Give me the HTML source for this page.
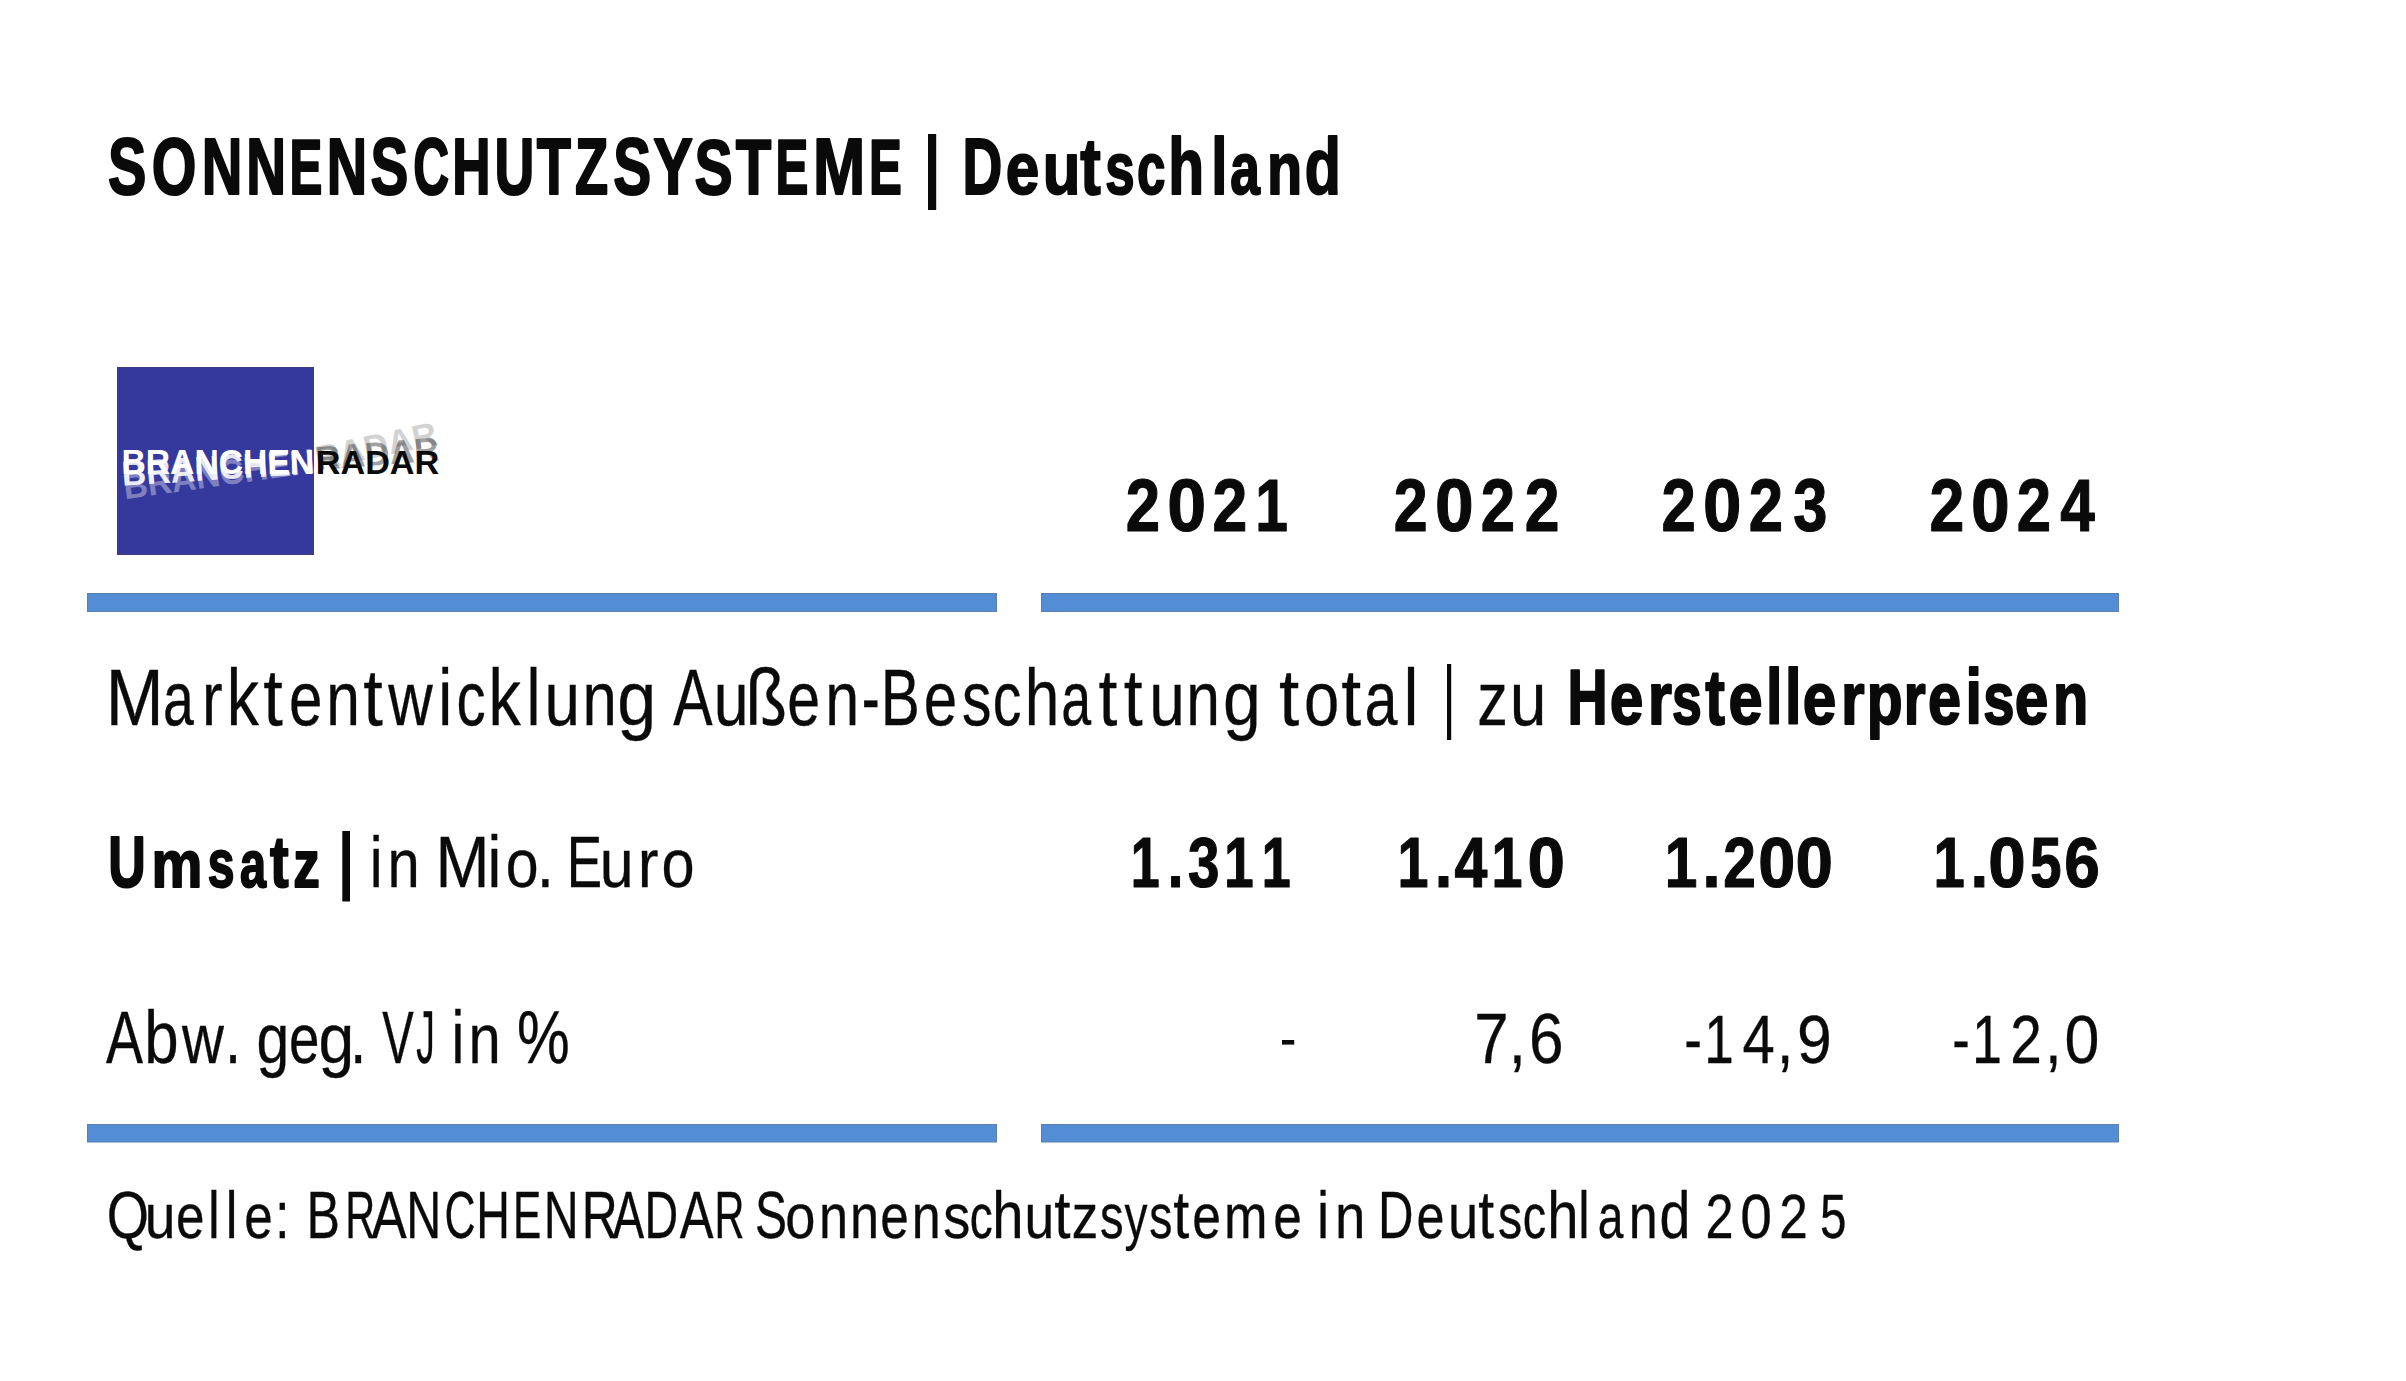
<!DOCTYPE html>
<html><head><meta charset="utf-8">
<style>
html,body{margin:0;padding:0;background:#fff;}
body{width:2406px;height:1381px;overflow:hidden;position:relative;}
svg{position:absolute;left:0;top:0;display:block;}
text{font-family:"Liberation Sans",sans-serif;fill:#0b0a0a;font-kerning:none;font-variant-ligatures:none;}
.b{stroke:#0b0a0a;stroke-width:1.8px;vector-effect:non-scaling-stroke;stroke-linejoin:round;}
.bn{stroke:#0b0a0a;stroke-width:1.1px;vector-effect:non-scaling-stroke;stroke-linejoin:round;}
.r{stroke:#0b0a0a;stroke-width:0.3px;vector-effect:non-scaling-stroke;stroke-linejoin:round;}
</style></head>
<body>
<svg width="2406" height="1381" viewBox="0 0 2406 1381">
<rect x="0" y="0" width="2406" height="1381" fill="#ffffff"/>
<!-- logo -->
<rect x="117.5" y="367.5" width="196" height="187" fill="#35389c" stroke="#3a3d80" stroke-width="1"/>
<!-- rules -->
<rect x="87.5" y="593.5" width="909" height="18" fill="#538dd5" stroke="#5b80aa" stroke-width="1"/>
<rect x="1041.5" y="593.5" width="1077" height="18" fill="#538dd5" stroke="#5b80aa" stroke-width="1"/>
<rect x="87.5" y="1124.5" width="909" height="17.5" fill="#538dd5" stroke="#5b80aa" stroke-width="1"/>
<rect x="1041.5" y="1124.5" width="1077" height="17.5" fill="#538dd5" stroke="#5b80aa" stroke-width="1"/>
<!-- bars -->
<rect x="928" y="134" width="8.2" height="76" fill="#0b0a0a"/>
<rect x="1447" y="664" width="4.2" height="76" fill="#0b0a0a"/>
<rect x="342.3" y="831" width="7.7" height="70.5" fill="#0b0a0a"/>
<rect x="1282" y="1040" width="12.2" height="4.6" fill="#0b0a0a"/>
<g transform="rotate(-8 303 462)" opacity="0.36"><text transform="translate(121.45 474.00) scale(0.9660 1)" style="font-size:34.88px;font-weight:700;fill:#ffffff">BRANCHEN</text></g>
<g transform="rotate(-3.7 305 462)" opacity="0.88"><text transform="translate(121.45 474.00) scale(0.9660 1)" style="font-size:34.88px;font-weight:700;fill:#ffffff">BRANCHEN</text></g>
<g transform="rotate(-12 300 462)" opacity="0.18"><text transform="translate(315.71 473.50) scale(1.0238 1)" style="font-size:33.43px;font-weight:700;fill:#0b0a0a">RADAR</text></g>
<g transform="rotate(-4.6 276 462)" opacity="0.38"><text transform="translate(315.71 473.50) scale(1.0238 1)" style="font-size:33.43px;font-weight:700;fill:#0b0a0a">RADAR</text></g>
<text transform="translate(121.45 474.00) scale(0.9660 1)" style="font-size:34.88px;font-weight:700;fill:#ffffff">BRANCHEN</text>
<text transform="translate(315.71 473.50) scale(1.0238 1)" style="font-size:33.43px;font-weight:700;fill:#0b0a0a">RADAR</text>
<text class="b" transform="translate(107.94 194.10) scale(0.7309 1)" style="font-size:78.78px;font-weight:700;">S</text>
<text class="b" transform="translate(151.84 194.10) scale(0.7289 1)" style="font-size:78.78px;font-weight:700;">O</text>
<text class="b" transform="translate(201.83 194.10) scale(0.7147 1)" style="font-size:78.78px;font-weight:700;">N</text>
<text class="b" transform="translate(246.21 194.10) scale(0.6996 1)" style="font-size:78.78px;font-weight:700;">N</text>
<text class="b" transform="translate(289.57 194.10) scale(0.6260 1)" style="font-size:78.78px;font-weight:700;">E</text>
<text class="b" transform="translate(326.86 194.10) scale(0.7104 1)" style="font-size:78.78px;font-weight:700;">N</text>
<text class="b" transform="translate(370.47 194.10) scale(0.7204 1)" style="font-size:78.78px;font-weight:700;">S</text>
<text class="b" transform="translate(413.16 194.10) scale(0.6310 1)" style="font-size:78.78px;font-weight:700;">C</text>
<text class="b" transform="translate(452.35 194.10) scale(0.6737 1)" style="font-size:78.78px;font-weight:700;">H</text>
<text class="b" transform="translate(494.58 194.10) scale(0.7011 1)" style="font-size:78.78px;font-weight:700;">U</text>
<text class="b" transform="translate(536.77 194.10) scale(0.7113 1)" style="font-size:78.78px;font-weight:700;">T</text>
<text class="b" transform="translate(575.08 194.10) scale(0.6896 1)" style="font-size:78.78px;font-weight:700;">Z</text>
<text class="b" transform="translate(613.26 194.10) scale(0.7225 1)" style="font-size:78.78px;font-weight:700;">S</text>
<text class="b" transform="translate(653.18 194.10) scale(0.7551 1)" style="font-size:78.78px;font-weight:700;">Y</text>
<text class="b" transform="translate(694.45 194.10) scale(0.7267 1)" style="font-size:78.78px;font-weight:700;">S</text>
<text class="b" transform="translate(735.75 194.10) scale(0.7394 1)" style="font-size:78.78px;font-weight:700;">T</text>
<text class="b" transform="translate(775.52 194.10) scale(0.6260 1)" style="font-size:78.78px;font-weight:700;">E</text>
<text class="b" transform="translate(813.11 194.10) scale(0.7967 1)" style="font-size:78.78px;font-weight:700;">M</text>
<text class="b" transform="translate(869.12 194.10) scale(0.6260 1)" style="font-size:78.78px;font-weight:700;">E</text>
<text class="b" transform="translate(962.61 194.10) scale(0.6996 1)" style="font-size:78.78px;font-weight:700;">D</text>
<text class="b" transform="translate(1005.75 194.10) scale(0.7649 0.9450)" style="font-size:78.78px;font-weight:700;">e</text>
<text class="b" transform="translate(1042.67 194.10) scale(0.7833 0.9450)" style="font-size:78.78px;font-weight:700;">u</text>
<text class="b" transform="translate(1080.15 194.10) scale(0.7815 1)" style="font-size:78.78px;font-weight:700;">t</text>
<text class="b" transform="translate(1105.34 194.10) scale(0.6717 0.9450)" style="font-size:78.78px;font-weight:700;">s</text>
<text class="b" transform="translate(1137.03 194.10) scale(0.6492 0.9450)" style="font-size:78.78px;font-weight:700;">c</text>
<text class="b" transform="translate(1168.20 194.10) scale(0.7446 1)" style="font-size:78.78px;font-weight:700;">h</text>
<text class="b" transform="translate(1211.24 194.10) scale(0.7377 1)" style="font-size:78.78px;font-weight:700;">l</text>
<text class="b" transform="translate(1230.34 194.10) scale(0.6761 0.9450)" style="font-size:78.78px;font-weight:700;">a</text>
<text class="b" transform="translate(1266.91 194.10) scale(0.7307 0.9450)" style="font-size:78.78px;font-weight:700;">n</text>
<text class="b" transform="translate(1304.87 194.10) scale(0.7507 1)" style="font-size:78.78px;font-weight:700;">d</text>
<text class="bn" transform="translate(1125.65 531.45) scale(0.8299 1)" style="font-size:74.33px;font-weight:700;">2</text>
<text class="bn" transform="translate(1167.25 531.45) scale(0.9418 1)" style="font-size:74.33px;font-weight:700;">0</text>
<text class="bn" transform="translate(1212.49 531.45) scale(0.8409 1)" style="font-size:74.33px;font-weight:700;">2</text>
<text class="bn" transform="translate(1255.18 531.45) scale(0.7901 1)" style="font-size:74.33px;font-weight:700;">1</text>
<text class="bn" transform="translate(1393.84 531.45) scale(0.8189 1)" style="font-size:74.33px;font-weight:700;">2</text>
<text class="bn" transform="translate(1434.94 531.45) scale(0.9357 1)" style="font-size:74.33px;font-weight:700;">0</text>
<text class="bn" transform="translate(1480.68 531.45) scale(0.8299 1)" style="font-size:74.33px;font-weight:700;">2</text>
<text class="bn" transform="translate(1524.87 531.45) scale(0.8409 1)" style="font-size:74.33px;font-weight:700;">2</text>
<text class="bn" transform="translate(1661.44 531.45) scale(0.8299 1)" style="font-size:74.33px;font-weight:700;">2</text>
<text class="bn" transform="translate(1703.10 531.45) scale(0.9295 1)" style="font-size:74.33px;font-weight:700;">0</text>
<text class="bn" transform="translate(1748.70 531.45) scale(0.8299 1)" style="font-size:74.33px;font-weight:700;">2</text>
<text class="bn" transform="translate(1793.26 531.45) scale(0.8252 1)" style="font-size:74.33px;font-weight:700;">3</text>
<text class="bn" transform="translate(1929.57 531.45) scale(0.8409 1)" style="font-size:74.33px;font-weight:700;">2</text>
<text class="bn" transform="translate(1971.07 531.45) scale(0.9386 1)" style="font-size:74.33px;font-weight:700;">0</text>
<text class="bn" transform="translate(2016.86 531.45) scale(0.8299 1)" style="font-size:74.33px;font-weight:700;">2</text>
<text class="bn" transform="translate(2060.31 531.45) scale(0.8352 1)" style="font-size:74.33px;font-weight:700;">4</text>
<text class="r" transform="translate(105.65 724.85) scale(0.8743 1)" style="font-size:79.51px;">M</text>
<text class="r" transform="translate(162.93 724.85) scale(0.6962 0.9450)" style="font-size:79.51px;">a</text>
<text class="r" transform="translate(202.03 724.85) scale(0.7798 0.9450)" style="font-size:79.51px;">r</text>
<text class="r" transform="translate(226.72 724.85) scale(0.8084 1)" style="font-size:79.51px;">k</text>
<text class="r" transform="translate(263.19 724.85) scale(0.8860 1)" style="font-size:79.51px;">t</text>
<text class="r" transform="translate(288.90 724.85) scale(0.7559 0.9450)" style="font-size:79.51px;">e</text>
<text class="r" transform="translate(326.13 724.85) scale(0.7609 0.9450)" style="font-size:79.51px;">n</text>
<text class="r" transform="translate(363.29 724.85) scale(0.8860 1)" style="font-size:79.51px;">t</text>
<text class="r" transform="translate(388.24 724.85) scale(0.7743 0.9450)" style="font-size:79.51px;">w</text>
<text class="r" transform="translate(438.33 724.85) scale(0.7911 1)" style="font-size:79.51px;">i</text>
<text class="r" transform="translate(456.48 724.85) scale(0.7322 0.9450)" style="font-size:79.51px;">c</text>
<text class="r" transform="translate(488.49 724.85) scale(0.8142 1)" style="font-size:79.51px;">k</text>
<text class="r" transform="translate(526.51 724.85) scale(0.7911 1)" style="font-size:79.51px;">l</text>
<text class="r" transform="translate(544.61 724.85) scale(0.8024 0.9450)" style="font-size:79.51px;">u</text>
<text class="r" transform="translate(582.55 724.85) scale(0.7757 0.9450)" style="font-size:79.51px;">n</text>
<text class="r" transform="translate(617.21 724.85) scale(0.8810 0.9450)" style="font-size:79.51px;">g</text>
<text class="r" transform="translate(673.33 724.85) scale(0.7417 1)" style="font-size:79.51px;">A</text>
<text class="r" transform="translate(713.78 724.85) scale(0.7876 0.9450)" style="font-size:79.51px;">u</text>
<text class="r" transform="translate(745.56 724.85) scale(0.8555 1)" style="font-size:79.51px;">ß</text>
<text class="r" transform="translate(787.14 724.85) scale(0.7425 0.9450)" style="font-size:79.51px;">e</text>
<text class="r" transform="translate(825.30 724.85) scale(0.7668 0.9450)" style="font-size:79.51px;">n</text>
<text class="r" transform="translate(861.65 724.85) scale(0.6800 1)" style="font-size:79.51px;">-</text>
<text class="r" transform="translate(880.64 724.85) scale(0.7373 1)" style="font-size:79.51px;">B</text>
<text class="r" transform="translate(923.80 724.85) scale(0.7559 0.9450)" style="font-size:79.51px;">e</text>
<text class="r" transform="translate(962.11 724.85) scale(0.7413 0.9450)" style="font-size:79.51px;">s</text>
<text class="r" transform="translate(992.72 724.85) scale(0.7205 0.9450)" style="font-size:79.51px;">c</text>
<text class="r" transform="translate(1024.84 724.85) scale(0.7811 1)" style="font-size:79.51px;">h</text>
<text class="r" transform="translate(1061.37 724.85) scale(0.6758 0.9450)" style="font-size:79.51px;">a</text>
<text class="r" transform="translate(1098.38 724.85) scale(0.8555 1)" style="font-size:79.51px;">t</text>
<text class="r" transform="translate(1123.83 724.85) scale(0.8555 1)" style="font-size:79.51px;">t</text>
<text class="r" transform="translate(1149.19 724.85) scale(0.8053 0.9450)" style="font-size:79.51px;">u</text>
<text class="r" transform="translate(1186.23 724.85) scale(0.7609 0.9450)" style="font-size:79.51px;">n</text>
<text class="r" transform="translate(1223.10 724.85) scale(0.8555 0.9450)" style="font-size:79.51px;">g</text>
<text class="r" transform="translate(1279.05 724.85) scale(0.9161 1)" style="font-size:79.51px;">t</text>
<text class="r" transform="translate(1304.09 724.85) scale(0.7965 0.9450)" style="font-size:79.51px;">o</text>
<text class="r" transform="translate(1341.17 724.85) scale(0.9013 1)" style="font-size:79.51px;">t</text>
<text class="r" transform="translate(1364.57 724.85) scale(0.7470 0.9450)" style="font-size:79.51px;">a</text>
<text class="r" transform="translate(1403.60 724.85) scale(0.8489 1)" style="font-size:79.51px;">l</text>
<text class="r" transform="translate(1477.17 724.85) scale(0.7706 0.9450)" style="font-size:79.51px;">z</text>
<text class="r" transform="translate(1509.75 724.85) scale(0.8320 0.9450)" style="font-size:79.51px;">u</text>
<text class="b" transform="translate(1567.38 724.10) scale(0.7126 1)" style="font-size:78.05px;font-weight:700;">H</text>
<text class="b" transform="translate(1609.64 724.10) scale(0.7747 0.9450)" style="font-size:78.05px;font-weight:700;">e</text>
<text class="b" transform="translate(1647.79 724.10) scale(0.7984 0.9450)" style="font-size:78.05px;font-weight:700;">r</text>
<text class="b" transform="translate(1672.02 724.10) scale(0.6860 0.9450)" style="font-size:78.05px;font-weight:700;">s</text>
<text class="b" transform="translate(1705.18 724.10) scale(0.7556 1)" style="font-size:78.05px;font-weight:700;">t</text>
<text class="b" transform="translate(1728.41 724.10) scale(0.7853 0.9450)" style="font-size:78.05px;font-weight:700;">e</text>
<text class="b" transform="translate(1766.07 724.10) scale(0.7585 1)" style="font-size:78.05px;font-weight:700;">l</text>
<text class="b" transform="translate(1785.07 724.10) scale(0.7585 1)" style="font-size:78.05px;font-weight:700;">l</text>
<text class="b" transform="translate(1802.75 724.10) scale(0.7720 0.9450)" style="font-size:78.05px;font-weight:700;">e</text>
<text class="b" transform="translate(1841.00 724.10) scale(0.7776 0.9450)" style="font-size:78.05px;font-weight:700;">r</text>
<text class="b" transform="translate(1866.63 724.10) scale(0.7526 0.9450)" style="font-size:78.05px;font-weight:700;">p</text>
<text class="b" transform="translate(1903.78 724.10) scale(0.7235 0.9450)" style="font-size:78.05px;font-weight:700;">r</text>
<text class="b" transform="translate(1927.88 724.10) scale(0.7614 0.9450)" style="font-size:78.05px;font-weight:700;">e</text>
<text class="b" transform="translate(1965.60 724.10) scale(0.7585 1)" style="font-size:78.05px;font-weight:700;">i</text>
<text class="b" transform="translate(1983.22 724.10) scale(0.7207 0.9450)" style="font-size:78.05px;font-weight:700;">s</text>
<text class="b" transform="translate(2014.64 724.10) scale(0.7747 0.9450)" style="font-size:78.05px;font-weight:700;">e</text>
<text class="b" transform="translate(2052.89 724.10) scale(0.7402 0.9450)" style="font-size:78.05px;font-weight:700;">n</text>
<text class="b" transform="translate(108.28 886.60) scale(0.7258 1)" style="font-size:71.51px;font-weight:700;">U</text>
<text class="b" transform="translate(151.62 886.60) scale(0.8009 0.9450)" style="font-size:71.51px;font-weight:700;">m</text>
<text class="b" transform="translate(207.71 886.60) scale(0.6730 0.9450)" style="font-size:71.51px;font-weight:700;">s</text>
<text class="b" transform="translate(240.03 886.60) scale(0.6556 0.9450)" style="font-size:71.51px;font-weight:700;">a</text>
<text class="b" transform="translate(269.92 886.60) scale(0.7839 1)" style="font-size:71.51px;font-weight:700;">t</text>
<text class="b" transform="translate(293.37 886.60) scale(0.7423 0.9450)" style="font-size:71.51px;font-weight:700;">z</text>
<text class="r" transform="translate(369.78 887.45) scale(0.7952 1)" style="font-size:72.82px;">i</text>
<text class="r" transform="translate(387.50 887.45) scale(0.7952 0.9450)" style="font-size:72.82px;">n</text>
<text class="r" transform="translate(435.43 887.45) scale(0.8909 1)" style="font-size:72.82px;">M</text>
<text class="r" transform="translate(487.38 887.45) scale(0.8512 1)" style="font-size:72.82px;">i</text>
<text class="r" transform="translate(505.67 887.45) scale(0.8114 0.9450)" style="font-size:72.82px;">o</text>
<text class="r" transform="translate(536.79 887.45) scale(0.8512 1)" style="font-size:72.82px;">.</text>
<text class="r" transform="translate(566.69 887.45) scale(0.7280 1)" style="font-size:72.82px;">E</text>
<text class="r" transform="translate(599.79 887.45) scale(0.8372 0.9450)" style="font-size:72.82px;">u</text>
<text class="r" transform="translate(637.71 887.45) scale(0.8569 0.9450)" style="font-size:72.82px;">r</text>
<text class="r" transform="translate(661.45 887.45) scale(0.8172 0.9450)" style="font-size:72.82px;">o</text>
<text class="bn" transform="translate(1130.70 887.25) scale(0.7460 1)" style="font-size:69.62px;font-weight:700;">1</text>
<text class="bn" transform="translate(1167.65 887.25) scale(0.8125 1)" style="font-size:69.62px;font-weight:700;">.</text>
<text class="bn" transform="translate(1187.96 887.25) scale(0.8125 1)" style="font-size:69.62px;font-weight:700;">3</text>
<text class="bn" transform="translate(1224.23 887.25) scale(0.7582 1)" style="font-size:69.62px;font-weight:700;">1</text>
<text class="bn" transform="translate(1261.79 887.25) scale(0.7460 1)" style="font-size:69.62px;font-weight:700;">1</text>
<text class="bn" transform="translate(1397.56 887.25) scale(0.7998 1)" style="font-size:69.62px;font-weight:700;">1</text>
<text class="bn" transform="translate(1434.68 887.25) scale(0.9089 1)" style="font-size:69.62px;font-weight:700;">.</text>
<text class="bn" transform="translate(1454.54 887.25) scale(0.8493 1)" style="font-size:69.62px;font-weight:700;">4</text>
<text class="bn" transform="translate(1491.53 887.25) scale(0.7998 1)" style="font-size:69.62px;font-weight:700;">1</text>
<text class="bn" transform="translate(1527.40 887.25) scale(0.9684 1)" style="font-size:69.62px;font-weight:700;">0</text>
<text class="bn" transform="translate(1664.72 887.25) scale(0.8417 1)" style="font-size:69.62px;font-weight:700;">1</text>
<text class="bn" transform="translate(1702.24 887.25) scale(0.9565 1)" style="font-size:69.62px;font-weight:700;">.</text>
<text class="bn" transform="translate(1723.16 887.25) scale(0.8417 1)" style="font-size:69.62px;font-weight:700;">2</text>
<text class="bn" transform="translate(1758.34 887.25) scale(0.9565 1)" style="font-size:69.62px;font-weight:700;">0</text>
<text class="bn" transform="translate(1795.42 887.25) scale(0.9684 1)" style="font-size:69.62px;font-weight:700;">0</text>
<text class="bn" transform="translate(1933.58 887.25) scale(0.8075 1)" style="font-size:69.62px;font-weight:700;">1</text>
<text class="bn" transform="translate(1970.58 887.25) scale(0.9176 1)" style="font-size:69.62px;font-weight:700;">.</text>
<text class="bn" transform="translate(1988.17 887.25) scale(0.9684 1)" style="font-size:69.62px;font-weight:700;">0</text>
<text class="bn" transform="translate(2030.24 887.25) scale(0.8075 1)" style="font-size:69.62px;font-weight:700;">5</text>
<text class="bn" transform="translate(2064.30 887.25) scale(0.9176 1)" style="font-size:69.62px;font-weight:700;">6</text>
<text class="r" transform="translate(105.94 1062.95) scale(0.7531 1)" style="font-size:73.69px;">A</text>
<text class="r" transform="translate(144.17 1062.95) scale(0.8389 1)" style="font-size:73.69px;">b</text>
<text class="r" transform="translate(181.93 1062.95) scale(0.7868 0.9450)" style="font-size:73.69px;">w</text>
<text class="r" transform="translate(225.05 1062.95) scale(0.7868 1)" style="font-size:73.69px;">.</text>
<text class="r" transform="translate(256.38 1062.95) scale(0.7996 0.9450)" style="font-size:73.69px;">g</text>
<text class="r" transform="translate(288.92 1062.95) scale(0.7432 0.9450)" style="font-size:73.69px;">e</text>
<text class="r" transform="translate(318.55 1062.95) scale(0.8720 0.9450)" style="font-size:73.69px;">g</text>
<text class="r" transform="translate(350.06 1062.95) scale(0.7996 1)" style="font-size:73.69px;">.</text>
<text class="r" transform="translate(382.20 1062.95) scale(0.6407 1)" style="font-size:73.69px;">V</text>
<text class="r" transform="translate(416.36 1062.95) scale(0.5034 1)" style="font-size:73.69px;">J</text>
<text class="r" transform="translate(451.43 1062.95) scale(0.7858 1)" style="font-size:73.69px;">i</text>
<text class="r" transform="translate(468.50 1062.95) scale(0.7858 0.9450)" style="font-size:73.69px;">n</text>
<text class="r" transform="translate(517.04 1062.95) scale(0.8047 1)" style="font-size:73.69px;">%</text>
<text class="r" transform="translate(1474.36 1063.15) scale(0.8853 1)" style="font-size:69.77px;">7</text>
<text class="r" transform="translate(1508.73 1063.15) scale(0.8877 1)" style="font-size:69.77px;">,</text>
<text class="r" transform="translate(1529.10 1063.15) scale(0.8902 1)" style="font-size:69.77px;">6</text>
<text class="r" transform="translate(1684.17 1062.65) scale(0.7684 1)" style="font-size:69.04px;">-</text>
<text class="r" transform="translate(1704.26 1062.65) scale(0.7690 1)" style="font-size:69.04px;">1</text>
<text class="r" transform="translate(1742.51 1062.65) scale(0.8408 1)" style="font-size:69.04px;">4</text>
<text class="r" transform="translate(1776.84 1062.65) scale(0.8731 1)" style="font-size:69.04px;">,</text>
<text class="r" transform="translate(1797.02 1062.65) scale(0.9055 1)" style="font-size:69.04px;">9</text>
<text class="r" transform="translate(1952.19 1062.65) scale(0.7620 1)" style="font-size:69.04px;">-</text>
<text class="r" transform="translate(1971.95 1062.65) scale(0.7816 1)" style="font-size:69.04px;">1</text>
<text class="r" transform="translate(2010.24 1062.65) scale(0.8230 1)" style="font-size:69.04px;">2</text>
<text class="r" transform="translate(2045.04 1062.65) scale(0.8660 1)" style="font-size:69.04px;">,</text>
<text class="r" transform="translate(2064.51 1062.65) scale(0.9090 1)" style="font-size:69.04px;">0</text>
<text class="r" transform="translate(106.68 1238.45) scale(0.8076 1)" style="font-size:67.30px;">Q</text>
<text class="r" transform="translate(144.86 1238.45) scale(0.8220 0.9450)" style="font-size:67.30px;">u</text>
<text class="r" transform="translate(176.08 1238.45) scale(0.7600 0.9450)" style="font-size:67.30px;">e</text>
<text class="r" transform="translate(207.90 1238.45) scale(0.7838 1)" style="font-size:67.30px;">l</text>
<text class="r" transform="translate(225.80 1238.45) scale(0.7838 1)" style="font-size:67.30px;">l</text>
<text class="r" transform="translate(244.18 1238.45) scale(0.7600 0.9450)" style="font-size:67.30px;">e</text>
<text class="r" transform="translate(275.12 1238.45) scale(0.7838 1)" style="font-size:67.30px;">:</text>
<text class="r" transform="translate(306.43 1238.45) scale(0.7454 1)" style="font-size:67.30px;">B</text>
<text class="r" transform="translate(345.36 1238.45) scale(0.6153 1)" style="font-size:67.30px;">R</text>
<text class="r" transform="translate(371.43 1238.45) scale(0.7831 1)" style="font-size:67.30px;">A</text>
<text class="r" transform="translate(406.37 1238.45) scale(0.7209 1)" style="font-size:67.30px;">N</text>
<text class="r" transform="translate(444.47 1238.45) scale(0.6382 1)" style="font-size:67.30px;">C</text>
<text class="r" transform="translate(476.33 1238.45) scale(0.6916 1)" style="font-size:67.30px;">H</text>
<text class="r" transform="translate(513.07 1238.45) scale(0.6306 1)" style="font-size:67.30px;">E</text>
<text class="r" transform="translate(543.68 1238.45) scale(0.7182 1)" style="font-size:67.30px;">N</text>
<text class="r" transform="translate(581.86 1238.45) scale(0.7408 1)" style="font-size:67.30px;">R</text>
<text class="r" transform="translate(612.76 1238.45) scale(0.6992 1)" style="font-size:67.30px;">A</text>
<text class="r" transform="translate(644.53 1238.45) scale(0.6924 1)" style="font-size:67.30px;">D</text>
<text class="r" transform="translate(679.65 1238.45) scale(0.7530 1)" style="font-size:67.30px;">A</text>
<text class="r" transform="translate(714.51 1238.45) scale(0.6153 1)" style="font-size:67.30px;">R</text>
<text class="r" transform="translate(754.97 1238.45) scale(0.7124 1)" style="font-size:67.30px;">S</text>
<text class="r" transform="translate(785.27 1238.45) scale(0.8056 0.9450)" style="font-size:67.30px;">o</text>
<text class="r" transform="translate(818.98 1238.45) scale(0.7765 0.9450)" style="font-size:67.30px;">n</text>
<text class="r" transform="translate(849.88 1238.45) scale(0.7765 0.9450)" style="font-size:67.30px;">n</text>
<text class="r" transform="translate(880.17 1238.45) scale(0.7632 0.9450)" style="font-size:67.30px;">e</text>
<text class="r" transform="translate(911.80 1238.45) scale(0.7730 0.9450)" style="font-size:67.30px;">n</text>
<text class="r" transform="translate(943.14 1238.45) scale(0.8042 0.9450)" style="font-size:67.30px;">s</text>
<text class="r" transform="translate(969.84 1238.45) scale(0.6830 0.9450)" style="font-size:67.30px;">c</text>
<text class="r" transform="translate(992.15 1238.45) scale(0.8348 1)" style="font-size:67.30px;">h</text>
<text class="r" transform="translate(1024.48 1238.45) scale(0.7940 0.9450)" style="font-size:67.30px;">u</text>
<text class="r" transform="translate(1054.14 1238.45) scale(0.8693 1)" style="font-size:67.30px;">t</text>
<text class="r" transform="translate(1071.70 1238.45) scale(0.7871 0.9450)" style="font-size:67.30px;">z</text>
<text class="r" transform="translate(1100.04 1238.45) scale(0.7020 0.9450)" style="font-size:67.30px;">s</text>
<text class="r" transform="translate(1124.55 1238.45) scale(0.6830 0.9450)" style="font-size:67.30px;">y</text>
<text class="r" transform="translate(1149.36 1238.45) scale(0.6884 0.9450)" style="font-size:67.30px;">s</text>
<text class="r" transform="translate(1173.28 1238.45) scale(0.8554 1)" style="font-size:67.30px;">t</text>
<text class="r" transform="translate(1192.36 1238.45) scale(0.7663 0.9450)" style="font-size:67.30px;">e</text>
<text class="r" transform="translate(1224.08 1238.45) scale(0.7762 0.9450)" style="font-size:67.30px;">m</text>
<text class="r" transform="translate(1273.27 1238.45) scale(0.7632 0.9450)" style="font-size:67.30px;">e</text>
<text class="r" transform="translate(1316.90 1238.45) scale(0.8115 1)" style="font-size:67.30px;">i</text>
<text class="r" transform="translate(1335.12 1238.45) scale(0.8115 0.9450)" style="font-size:67.30px;">n</text>
<text class="r" transform="translate(1378.12 1238.45) scale(0.7301 1)" style="font-size:67.30px;">D</text>
<text class="r" transform="translate(1416.51 1238.45) scale(0.7473 0.9450)" style="font-size:67.30px;">e</text>
<text class="r" transform="translate(1448.02 1238.45) scale(0.8080 0.9450)" style="font-size:67.30px;">u</text>
<text class="r" transform="translate(1478.37 1238.45) scale(0.8514 1)" style="font-size:67.30px;">t</text>
<text class="r" transform="translate(1498.10 1238.45) scale(0.7191 0.9450)" style="font-size:67.30px;">s</text>
<text class="r" transform="translate(1522.86 1238.45) scale(0.6962 0.9450)" style="font-size:67.30px;">c</text>
<text class="r" transform="translate(1547.35 1238.45) scale(0.8348 1)" style="font-size:67.30px;">h</text>
<text class="r" transform="translate(1578.30 1238.45) scale(0.7602 1)" style="font-size:67.30px;">l</text>
<text class="r" transform="translate(1597.69 1238.45) scale(0.6856 0.9450)" style="font-size:67.30px;">a</text>
<text class="r" transform="translate(1628.70 1238.45) scale(0.7730 0.9450)" style="font-size:67.30px;">n</text>
<text class="r" transform="translate(1659.62 1238.45) scale(0.8261 1)" style="font-size:67.30px;">d</text>
<text class="r" transform="translate(1705.41 1238.45) scale(0.7949 1)" style="font-size:63.45px;">2</text>
<text class="r" transform="translate(1740.37 1238.45) scale(0.8983 1)" style="font-size:63.45px;">0</text>
<text class="r" transform="translate(1779.35 1238.45) scale(0.8093 1)" style="font-size:63.45px;">2</text>
<text class="r" transform="translate(1819.92 1238.45) scale(0.7500 1)" style="font-size:63.45px;">5</text>
</svg>
</body></html>
